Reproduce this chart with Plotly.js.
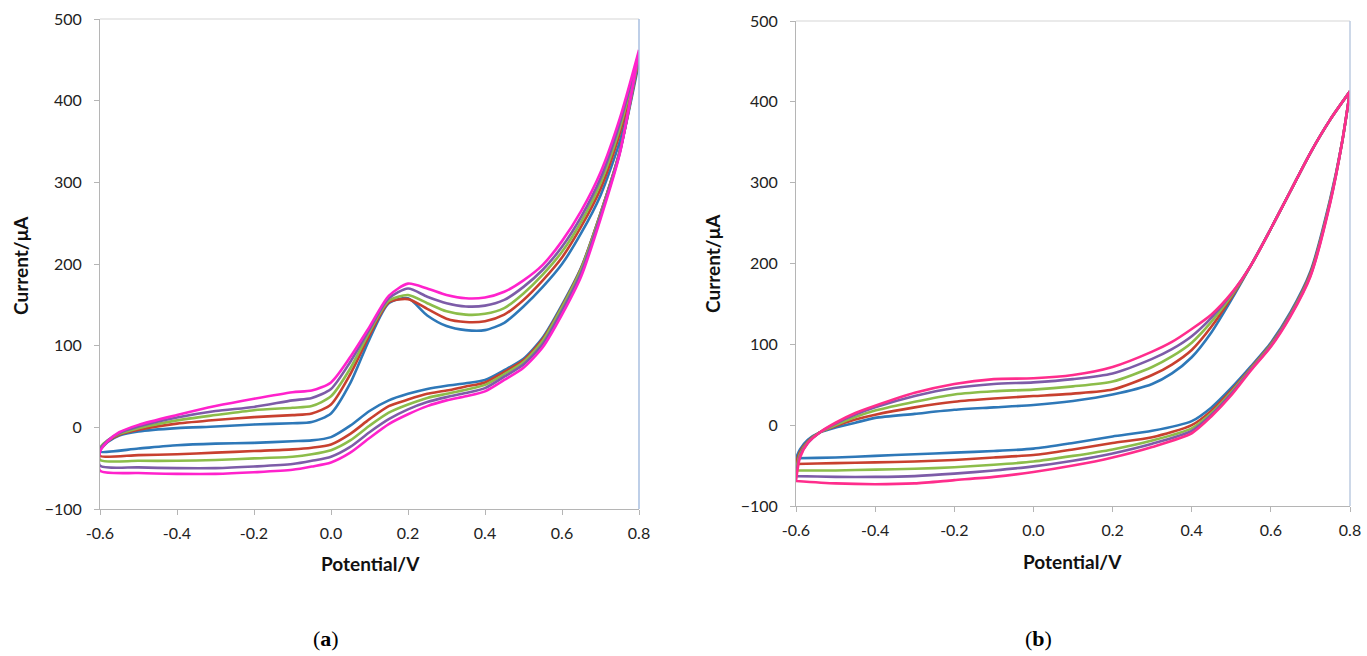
<!DOCTYPE html>
<html>
<head>
<meta charset="utf-8">
<script src="https://cdn.plot.ly/plotly-3.0.1.min.js"></script>
<style>html,body{margin:0;padding:0;background:#fff;}#chart{width:1367px;height:656px;}</style>
</head>
<body>
<div id="chart"></div>
<script>
// ---------- Panel (a) ----------
const xUpA  = [-0.6,-0.58,-0.55,-0.5,-0.4,-0.3,-0.2,-0.1,-0.05,0,0.05,0.1,0.15,0.2,0.25,0.3,0.35,0.4,0.45,0.5,0.55,0.6,0.65,0.7,0.75,0.8];
const xLowA = [0.8,0.75,0.7,0.65,0.6,0.55,0.5,0.45,0.4,0.35,0.3,0.25,0.2,0.15,0.1,0.05,0,-0.05,-0.1,-0.2,-0.3,-0.4,-0.5,-0.6];

const blueUpA    = [-28,-18,-10,-5,-1,1,3.5,5,6.5,17,54,108,152,158,137,124,119,119,128,148,172,200,238,284,350,447];
const redUpA     = [-28,-17,-9,-3,4.5,9,12.5,15,17,28,65,113,153,157,145,133,129,130,138,156,180,208,246,292,360,452];
const greenUpA   = [-25,-16,-8,-1,8.5,15,21,24,26,38,72,117,155,162,152,142,138,139,146,164,187,215,252,299,366,456];
const purpleUpA  = [-27,-16,-7,1,12,20,25,33,36,47,80,120,158,170,160,152,148,149,156,172,193,221,258,305,372,459];
const magentaUpA = [-30,-17,-6,3,15,26,35,43,45,55,86,123,161,176,170,162,158,159,166,180,199,228,265,312,378,462];

const blueLowA    = [447,338,262,196,150,110,84,70,58,54,51,47,41,33,20,2,-12,-16,-17,-19,-20,-22,-26,-30];
const redLowA     = [452,338,262,195,148,108,82,68,55,50,45,41,34,26,10,-8,-21,-25,-27,-29,-31,-33,-34,-35];
const greenLowA   = [456,337,261,194,147,106,80,65,52,46,41,36,28,18,2,-16,-28,-33,-36,-38,-40,-41,-41,-40];
const purpleLowA  = [459,336,259,190,143,102,77,62,48,42,37,31,22,10,-6,-24,-36,-41,-45,-48,-50,-50,-49,-47];
const magentaLowA = [462,335,255,185,138,98,73,58,44,38,33,26,16,4,-13,-31,-43,-48,-52,-55,-57,-57,-56,-53];

// ---------- Panel (b) ----------
const xUpB  = [-0.6,-0.59,-0.57,-0.54,-0.5,-0.45,-0.4,-0.3,-0.2,-0.1,0,0.1,0.2,0.3,0.35,0.4,0.45,0.5,0.55,0.6,0.65,0.7,0.75,0.8];
const xLowB = [0.8,0.78,0.75,0.7,0.65,0.6,0.55,0.5,0.45,0.4,0.3,0.2,0.1,0,-0.1,-0.2,-0.3,-0.4,-0.5,-0.6];

const blueUpB    = [-41,-30,-18,-9,-3,3,9,14,19,22,25,30,38,51,64,84,115,155,198,243,290,337,378,413];
const redUpB     = [-48,-33,-20,-9,-1,7,13,22,29,33,36,39,44,62,75,93,122,158,198,243,290,337,378,413];
const greenUpB   = [-56,-36,-21,-9,0,10,18,29,38,42,44,48,54,72,85,102,128,160,198,243,290,337,378,413];
const purpleUpB  = [-63,-38,-22,-9,2,13,22,36,46,51,53,57,64,82,94,110,133,162,198,243,290,337,378,413];
const magentaUpB = [-69,-40,-22,-9,3,15,24,40,51,57,58,62,72,91,103,119,137,163,198,243,290,337,378,413];

const blueLowB    = [413,350,280,190,140,102,73,46,22,5,-7,-14,-22,-29,-32,-34,-36,-38,-40,-41];
const redLowB     = [413,350,278,188,138,100,71,43,18,0,-15,-22,-30,-37,-40,-43,-45,-46,-47,-48];
const greenLowB   = [413,350,277,186,137,99,70,41,15,-4,-19,-30,-38,-45,-49,-52,-54,-55,-56,-56];
const purpleLowB  = [413,350,276,185,136,98,69,39,13,-7,-23,-35,-44,-51,-56,-60,-63,-64,-64,-63];
const magentaLowB = [413,350,275,184,135,97,68,37,11,-10,-27,-40,-50,-58,-64,-68,-72,-73,-72,-69];

const xTicks = [-0.6,-0.4,-0.2,0.0,0.2,0.4,0.6,0.8];
const xTickText = ['-0.6','-0.4','-0.2','0.0','0.2','0.4','0.6','0.8'];
const yTicks = [-100,0,100,200,300,400,500];

const colorsA = ['#2e78b8','#c8402f','#8cbd4a','#7d5ca8','#ff22cc'];
const colorsB = ['#2e78b8','#c8402f','#8cbd4a','#7d5ca8','#ff2d8c'];

function loop(xu, yu, xl, yl, color, xa, ya) {
  return {
    x: xu.concat(xl, [xu[0]]),
    y: yu.concat(yl, [yu[0]]),
    xaxis: xa, yaxis: ya,
    type: 'scatter', mode: 'lines',
    line: {color: color, width: 2.6, shape: 'spline', smoothing: 0.7},
    hoverinfo: 'skip', showlegend: false
  };
}

const data = [
  loop(xUpA, blueUpA, xLowA, blueLowA, colorsA[0], 'x', 'y'),
  loop(xUpA, redUpA, xLowA, redLowA, colorsA[1], 'x', 'y'),
  loop(xUpA, greenUpA, xLowA, greenLowA, colorsA[2], 'x', 'y'),
  loop(xUpA, purpleUpA, xLowA, purpleLowA, colorsA[3], 'x', 'y'),
  loop(xUpA, magentaUpA, xLowA, magentaLowA, colorsA[4], 'x', 'y'),
  loop(xUpB, blueUpB, xLowB, blueLowB, colorsB[0], 'x2', 'y2'),
  loop(xUpB, redUpB, xLowB, redLowB, colorsB[1], 'x2', 'y2'),
  loop(xUpB, greenUpB, xLowB, greenLowB, colorsB[2], 'x2', 'y2'),
  loop(xUpB, purpleUpB, xLowB, purpleLowB, colorsB[3], 'x2', 'y2'),
  loop(xUpB, magentaUpB, xLowB, magentaLowB, colorsB[4], 'x2', 'y2')
];

const W = 1367, H = 656;
const tickFont = {family: 'Lato, "Open Sans", sans-serif', size: 16, color: '#222'};
function xAxis(l, r, anchor) {
  return {
    domain: [l / W, r / W], anchor: anchor, range: [-0.6, 0.8],
    tickvals: xTicks, ticktext: xTickText, ticks: 'outside', ticklen: 5,
    tickcolor: '#b5b5b5', showline: true, linecolor: '#b5b5b5', linewidth: 1,
    showgrid: false, zeroline: false, tickfont: tickFont, ticklabelstandoff: 5
  };
}
function yAxis(top, bottom, anchor) {
  return {
    domain: [1 - bottom / H, 1 - top / H], anchor: anchor, range: [-100, 500],
    tickvals: yTicks, ticks: 'outside', ticklen: 5,
    tickcolor: '#b5b5b5', showline: true, linecolor: '#b5b5b5', linewidth: 1,
    showgrid: false, zeroline: false, tickfont: tickFont, ticklabelstandoff: 9
  };
}

const titleFont = {family: 'Lato, "Open Sans", sans-serif', size: 19, color: '#111'};
const capFont = {family: '"Liberation Serif", "DejaVu Serif", serif', size: 22, color: '#000'};

const layout = {
  width: W, height: H,
  margin: {l: 0, r: 0, t: 0, b: 0},
  paper_bgcolor: '#fff', plot_bgcolor: '#fff',
  showlegend: false,
  xaxis: xAxis(100, 639, 'y'),
  yaxis: yAxis(19, 509, 'x'),
  xaxis2: xAxis(796, 1350, 'y2'),
  yaxis2: yAxis(21, 506, 'x2'),
  shapes: [
    {type: 'line', xref: 'x domain', yref: 'y domain', x0: 0, x1: 1, y0: 1, y1: 1, line: {color: '#e3e3e3', width: 1.5}},
    {type: 'line', xref: 'x domain', yref: 'y domain', x0: 1, x1: 1, y0: 0, y1: 1, line: {color: '#a9bfe0', width: 1.5}},
    {type: 'line', xref: 'x2 domain', yref: 'y2 domain', x0: 0, x1: 1, y0: 1, y1: 1, line: {color: '#e3e3e3', width: 1.5}},
    {type: 'line', xref: 'x2 domain', yref: 'y2 domain', x0: 1, x1: 1, y0: 0, y1: 1, line: {color: '#bccbe0', width: 1.5}}
  ],
  annotations: [
    {text: '<b>Current/μA</b>', xref: 'paper', yref: 'paper', x: 20 / W, y: 1 - 266 / H, textangle: -90, showarrow: false, font: titleFont, xanchor: 'center', yanchor: 'middle'},
    {text: '<b>Current/μA</b>', xref: 'paper', yref: 'paper', x: 712 / W, y: 1 - 264 / H, textangle: -90, showarrow: false, font: titleFont, xanchor: 'center', yanchor: 'middle'},
    {text: '<b>Potential/V</b>', xref: 'paper', yref: 'paper', x: 370 / W, y: 1 - 563 / H, showarrow: false, font: titleFont, xanchor: 'center', yanchor: 'middle'},
    {text: '<b>Potential/V</b>', xref: 'paper', yref: 'paper', x: 1072 / W, y: 1 - 561 / H, showarrow: false, font: titleFont, xanchor: 'center', yanchor: 'middle'},
    {text: '(<b>a</b>)', xref: 'paper', yref: 'paper', x: 326 / W, y: 1 - 638 / H, showarrow: false, font: capFont, xanchor: 'center', yanchor: 'middle'},
    {text: '(<b>b</b>)', xref: 'paper', yref: 'paper', x: 1038 / W, y: 1 - 638 / H, showarrow: false, font: capFont, xanchor: 'center', yanchor: 'middle'}
  ]
};

Plotly.newPlot('chart', data, layout, {staticPlot: true, displayModeBar: false});
</script>
</body>
</html>
